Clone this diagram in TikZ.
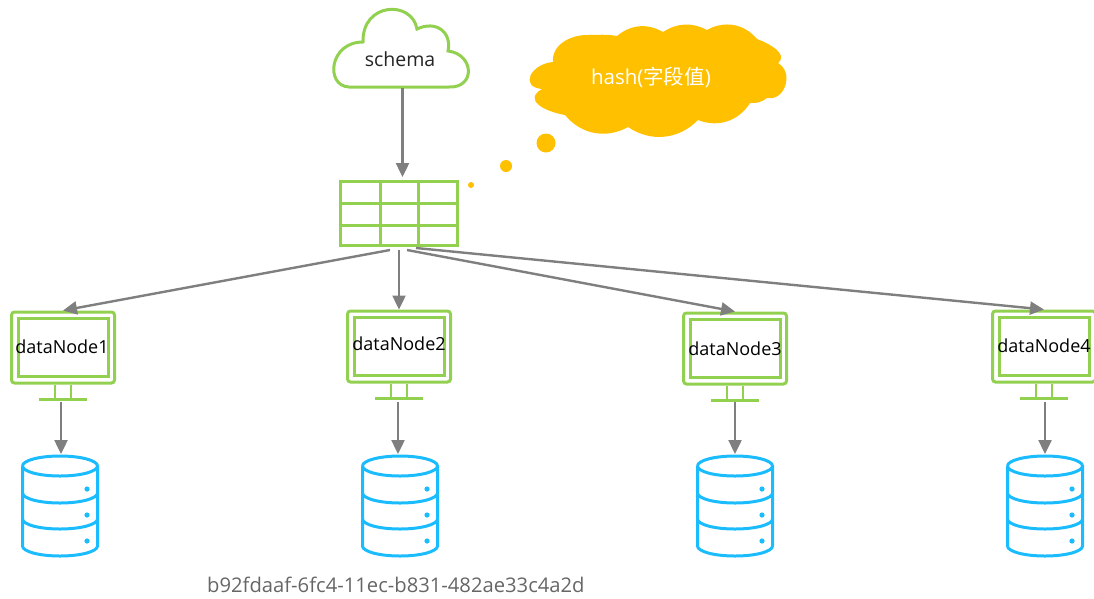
\documentclass[tikz,border=0pt]{standalone}
\usepackage{fontspec}
\setmainfont{Open Sans}
\newfontfamily\cjk{Noto Sans CJK SC}
\usepackage{xcolor}
\usepackage{tikz}
\usetikzlibrary{positioning, arrows.meta, calc}
\definecolor{leafgreen}{RGB}{146,208,80}
\definecolor{diskblue}{RGB}{26,188,254}
\definecolor{thinkyellow}{RGB}{255,192,0}
\definecolor{arrowgray}{RGB}{127,127,127}
\tikzset{label18/.style={
    inner sep=0pt,
    font=\fontsize{18}{20}\selectfont
}}
\tikzset{label20/.style={
    inner sep=0pt,
    font=\fontsize{20.2}{22}\selectfont
}}
\tikzset{link/.style={
    draw=arrowgray,
    line width=2.4pt,
    -{Triangle[length=14pt,width=13pt]}
}}
\tikzset{pics/monitor/.style={code={
    \node (-frame) [draw=leafgreen, line width=3pt, rounded corners=3pt, minimum width=103pt, minimum height=71pt, outer sep=1.5pt] {};
    \node (-screen) [draw=leafgreen, line width=3pt, minimum width=90pt, minimum height=58pt] at (0,0) {};
    \draw [leafgreen, line width=2.5pt] (-8,37) -- (-8,52) (8,37) -- (8,52) (-24,52) -- (24,52);
}}}
\tikzset{pics/disk/.style={code={
    \coordinate (-top) at (0,-12);
    \draw [diskblue, line width=3pt, fill=white] (-37.5,0) arc (180:-180:37.5 and 10);
    \draw [diskblue, line width=3pt] (-37.5,0) -- (-37.5,80) arc (180:0:37.5 and 10) -- (37.5,0);
    \foreach \y in {27,53} {
        \draw [diskblue, line width=3pt] (-37.5,\y) arc (180:0:37.5 and 10);
    }
    \foreach \y in {23,49,75} {
        \fill [diskblue] (27,\y) circle (2.6);
    }
}}}
\begin{document}
\begin{tikzpicture}[x=1pt, y=-1pt]
    \useasboundingbox (0,0) rectangle (1094,598);
    % schema cloud
    \node (schema) [minimum width=134pt, minimum height=76pt, inner sep=0pt] at (402,50) {};
    \draw [leafgreen, line width=3pt, fill=white] (349,87)
        .. controls (325,86) and (329,42) .. (363,42)
        .. controls (362,2) and (412,0) .. (417,29)
        .. controls (436,20) and (452,32) .. (448,51)
        .. controls (474,54) and (476,88) .. (449,87)
        -- cycle;
    \node (schemaText) [label18, font=\fontsize{19.5}{22}\selectfont, text=black!85] at (400,59) {schema};
    % thought cloud
    \fill [thinkyellow] (553,62) to[out=95, in=180] (587,35) to[out=0, in=170] (617,36)
        to[bend left=35] (663,32) to[bend left=30] (707,30) to[bend left=40] (757,39)
        to[out=-20, in=40, looseness=1.1] (778,63) to[out=-30, in=-10, looseness=1.3] (767,98)
        to[bend left=20] (750,103) to[bend left=40] (698,120)
        to[bend left=40] (628,127) to[bend left=40] (565,115)
        to[out=170, in=210, looseness=1.6] (542,89)
        to[out=175, in=185, looseness=2] (553,62) -- cycle;
    \node (hash) [label20, font=\fontsize{20.5}{22}\selectfont, text=white] at (651,77) {hash({\cjk 字段值})};
    \fill [thinkyellow] (546,143) circle (9.5);
    \fill [thinkyellow] (506,166) circle (6);
    \fill [thinkyellow] (471,185) circle (3);
    % table
    \node (tbl) [draw=leafgreen, line width=3pt, minimum width=117pt, minimum height=64pt, outer sep=1.5pt] at (399,213.5) {};
    \draw [leafgreen, line width=3pt] (380,182) -- (380,245) (418,182) -- (418,245) (341,203) -- (457,203) (341,225) -- (457,225);
    \coordinate (tblA) at (390,250);
    \coordinate (tblB) at (399,250);
    \coordinate (tblC) at (407,250);
    \coordinate (tblD) at (416,248);
    \draw [link] ($(schema.south) + (0.5,0)$) -- ($(schema.south |- tbl.north) + (0.5,-3)$);
    % data nodes and disks
    \foreach \i/\mx/\my/\lx/\ly/\dx/\ax in {1/63/347.5/62/347/60/61, 2/399/346.5/399/344/400/398, 3/735/348.5/735/349/735/735, 4/1044/346.5/1044/346/1045/1045} {
        \pic (dn\i) at (\mx,\my) {monitor};
        \node (label\i) [label18, text=black] at (\lx,\ly) {dataNode\i};
        \pic (db\i) at (\dx,466) {disk};
        \coordinate (foot\i) at (\ax,402);
    }
    \draw [link] (tblA) -- (dn1-frame.north);
    \draw [link] (tblB) -- (dn2-frame.north);
    \draw [link] (tblC) -- (dn3-frame.north);
    \draw [link] (tblD) -- (dn4-frame.north);
    \foreach \i in {1,...,4} {
        \draw [link] (foot\i) -- (foot\i |- db\i-top);
    }
    \node (uuid) [label20, text=black!60, anchor=west] at (207,585) {b92fdaaf-6fc4-11ec-b831-482ae33c4a2d};
\end{tikzpicture}
\end{document}
